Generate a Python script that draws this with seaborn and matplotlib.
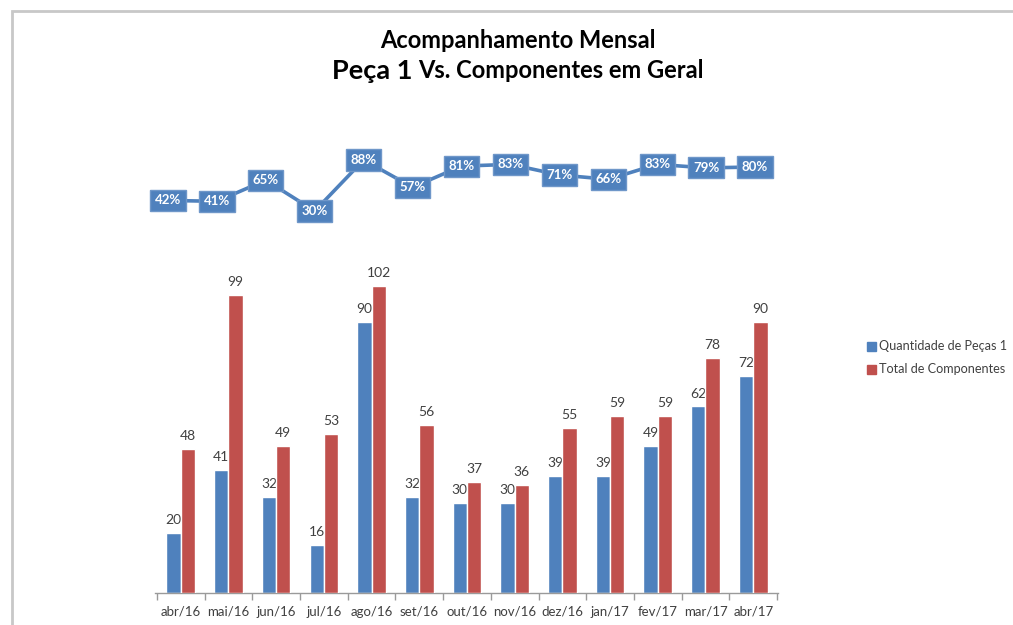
import matplotlib
matplotlib.use("Agg")
import matplotlib.pyplot as plt
from matplotlib.patches import Rectangle
import seaborn as sns
import pandas as pd
import numpy as np

# ---- data ----
months = ["abr/16", "mai/16", "jun/16", "jul/16", "ago/16", "set/16", "out/16",
          "nov/16", "dez/16", "jan/17", "fev/17", "mar/17", "abr/17"]
pecas = [20, 41, 32, 16, 90, 32, 30, 30, 39, 39, 49, 62, 72]
componentes = [48, 99, 49, 53, 102, 56, 37, 36, 55, 59, 59, 78, 90]
percentual = [42, 41, 65, 30, 88, 57, 81, 83, 71, 66, 83, 79, 80]

serie_pecas = "Quantidade de Peças 1"
serie_comp = "Total de Componentes"

BLUE = "#4f81bd"
RED = "#c0504d"
LABEL_GREY = "#404040"

sns.set_theme(style="white")
plt.rcParams["font.family"] = ["Lato", "DejaVu Sans"]

df = pd.DataFrame({
    "mes": months * 2,
    "valor": pecas + componentes,
    "serie": [serie_pecas] * len(months) + [serie_comp] * len(months),
})
df_pct = pd.DataFrame({"pos": np.arange(len(months)), "pct": percentual})

W, H = 1013, 625
fig = plt.figure(figsize=(W / 100, H / 100), dpi=100)

# outer chart frame
fig.patches.append(Rectangle((12 / W, -0.1), 1.2, (H - 11) / H + 0.1,
                             transform=fig.transFigure, fill=False,
                             edgecolor="#c8c8c8", linewidth=2, zorder=0))

# ---- bars ----
ax = fig.add_axes([155 / W, 32 / H, 623 / W, 361 / H])
ax.patch.set_alpha(0)
sns.barplot(data=df, x="mes", y="valor", hue="serie", order=months,
            hue_order=[serie_pecas, serie_comp], palette=[BLUE, RED],
            width=0.6, saturation=1, ax=ax, legend=False)
ax.set_xlim(-0.54, 12.52)
ax.set_ylim(0, 120)
for cont, z in zip(ax.containers, [2, 4]):
    for b in cont:
        b.set_zorder(z)
for cont, z in zip(ax.containers, [3, 5]):
    labels = ax.bar_label(cont, padding=5, fontsize=10, color=LABEL_GREY)
    for t in labels:
        t.set_zorder(z)
ax.set_xlabel("")
ax.set_ylabel("")
ax.set_yticks([])
for s in ["top", "right", "left"]:
    ax.spines[s].set_visible(False)
ax.spines["bottom"].set_color("#9a9a9a")
ax.spines["bottom"].set_linewidth(1)
ax.set_xticks(np.arange(len(months)))
ax.set_xticklabels(months, fontsize=9.5, color=LABEL_GREY)
ax.tick_params(axis="x", length=0, pad=9)
ax.set_xticks(np.arange(len(months) + 1) - 0.5, minor=True)
ax.tick_params(axis="x", which="minor", length=5, color="#9a9a9a", width=1,
               bottom=True)

# legend
fig.patches.append(Rectangle((867 / W, (H - 351) / H), 9 / W, 9 / H,
                             transform=fig.transFigure, color=BLUE))
fig.patches.append(Rectangle((867 / W, (H - 374) / H), 9 / W, 9 / H,
                             transform=fig.transFigure, color=RED))
fig.text(879 / W, (H - 346) / H, serie_pecas, fontsize=9.1, color=LABEL_GREY,
         va="center", ha="left")
fig.text(879 / W, (H - 369) / H, serie_comp, fontsize=9.1, color=LABEL_GREY,
         va="center", ha="left")

# ---- percentage line ----
axl = fig.add_axes([143.5 / W, 387.6 / H, 636 / W, 105.6 / H])
axl.patch.set_alpha(0)
sns.lineplot(data=df_pct, x="pos", y="pct", color=BLUE, linewidth=2.6, ax=axl)
axl.set_xlim(-0.5, 12.5)
axl.set_ylim(0, 120)
axl.axis("off")
for x, v in zip(df_pct["pos"], df_pct["pct"]):
    axl.text(x, v, f"{v}%", ha="center", va="center", color="white",
             fontsize=9.5, fontweight="bold",
             bbox=dict(boxstyle="square,pad=0.35", facecolor=BLUE,
                       edgecolor="#6f97c9", linewidth=1))

# ---- title ----
fig.text(518 / W, (H - 40) / H, "Acompanhamento Mensal", ha="center",
         va="center", fontsize=17, fontweight="bold", color="black")
t1 = fig.text(0, (H - 71) / H, "Peça 1", ha="left", va="center",
              fontsize=19.5, fontweight="bold", color="black")
t2 = fig.text(0, (H - 71) / H, "Vs. Componentes em Geral", ha="left",
              va="center", fontsize=17, fontweight="bold", color="black")
renderer = fig.canvas.get_renderer()
w1 = t1.get_window_extent(renderer).width
w2 = t2.get_window_extent(renderer).width
gap = 6
x0 = 518 - (w1 + gap + w2) / 2
t1.set_x(x0 / W)
t2.set_x((x0 + w1 + gap) / W)

fig.savefig("out.png", dpi=100, facecolor="white")
